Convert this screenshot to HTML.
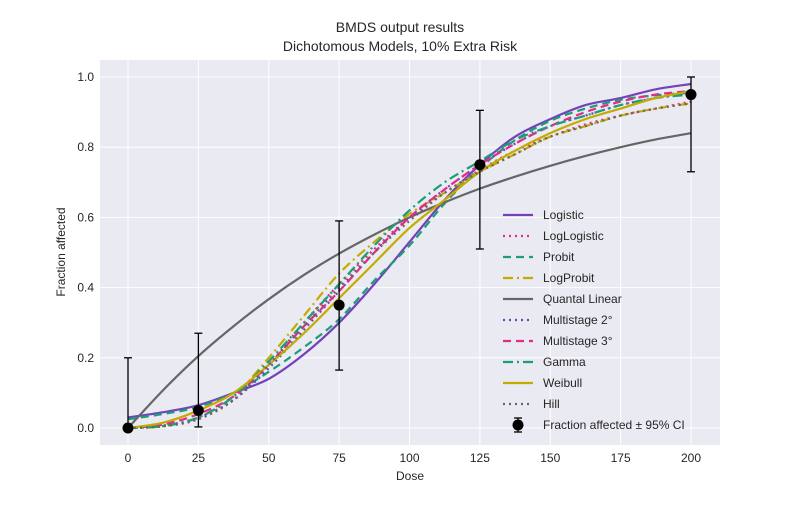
<!DOCTYPE html>
<html><head><meta charset="utf-8"><style>
body{margin:0;background:#fff;}
svg text{font-family:"Liberation Sans",sans-serif;fill:#262626;}
</style></head><body>
<svg id="chart" width="800" height="500">
<rect x="100" y="60" width="620" height="385" fill="#eaeaf2"/>
<g id="grid"></g><g id="xt"></g><g id="yt"></g>
<text x="400" y="32" font-size="14" text-anchor="middle">BMDS output results</text>
<text x="400" y="51" font-size="14" text-anchor="middle">Dichotomous Models, 10% Extra Risk</text>
<text x="410" y="480" font-size="12" text-anchor="middle">Dose</text>
<text x="0" y="0" font-size="12" text-anchor="middle" transform="translate(65,252) rotate(-90)">Fraction affected</text>
<g id="curves"></g><g id="pts"></g>
<g id="legend"></g>
</svg>
<script>
const doses=[0,12.5,25,37.5,50,62.5,75,87.5,100,112.5,125,137.5,150,162.5,175,187.5,200];
const logistic=[0.03,0.045,0.065,0.10,0.14,0.21,0.30,0.41,0.53,0.65,0.75,0.83,0.88,0.92,0.94,0.965,0.98];
const logLogistic=[0,0.005,0.025,0.08,0.18,0.30,0.41,0.51,0.60,0.67,0.735,0.79,0.83,0.865,0.89,0.91,0.93];
const probit=[0.025,0.04,0.06,0.10,0.16,0.23,0.31,0.42,0.52,0.64,0.74,0.82,0.875,0.91,0.935,0.948,0.955];
const logProbit=[0,0.005,0.03,0.09,0.20,0.32,0.44,0.53,0.61,0.67,0.73,0.78,0.83,0.86,0.89,0.91,0.925];
const quantalLinear=[0,0.108,0.205,0.29,0.367,0.436,0.497,0.551,0.60,0.643,0.682,0.716,0.747,0.775,0.80,0.822,0.84];
const multistage2=[0,0.007,0.03,0.08,0.17,0.28,0.39,0.50,0.60,0.68,0.75,0.81,0.86,0.89,0.92,0.94,0.955];
const multistage3=[0,0.01,0.04,0.09,0.18,0.29,0.39,0.50,0.60,0.68,0.75,0.81,0.86,0.90,0.93,0.95,0.96];
const gamma=[0,0.006,0.03,0.09,0.19,0.30,0.41,0.52,0.62,0.70,0.76,0.82,0.86,0.89,0.92,0.94,0.95];
const weibull=[0,0.015,0.05,0.10,0.18,0.27,0.37,0.47,0.57,0.65,0.73,0.79,0.84,0.88,0.91,0.94,0.96];
const hill=[0,0.005,0.025,0.08,0.18,0.29,0.40,0.50,0.59,0.67,0.73,0.78,0.83,0.86,0.89,0.91,0.925];
const obsDose=[0,25,75,125,200];
const obsFrac=[0,0.05,0.35,0.75,0.95];
const obsLo=[0,0.003,0.165,0.51,0.73];
const obsHi=[0.2,0.27,0.59,0.905,1.0];
const xTicks=[0,25,50,75,100,125,150,175,200];
const yTicks=[0,0.2,0.4,0.6,0.8,1.0];

const X=d=>128+d*(691-128)/200;
const Y=v=>428-v*351;
const NS='http://www.w3.org/2000/svg';
function mk(t,a,p){const e=document.createElementNS(NS,t);for(const k in a)e.setAttribute(k,a[k]);p.appendChild(e);return e;}
const grid=document.getElementById('grid'),xt=document.getElementById('xt'),yt=document.getElementById('yt');
xTicks.forEach(t=>{
 const l=mk('line',{x1:X(t),x2:X(t),y1:60,y2:445,stroke:'#fff','stroke-width':1},grid);
 
 
 const s=mk('text',{x:X(t),y:462,'font-size':12,'text-anchor':'middle'},xt);s.textContent=t;
 
 
});
yTicks.forEach(t=>{
 const l=mk('line',{x1:100,x2:720,y1:Y(t),y2:Y(t),stroke:'#fff','stroke-width':1},grid);
 
 
 const s=mk('text',{x:94,y:Y(t)+4,'font-size':12,'text-anchor':'end'},yt);s.textContent=t.toFixed(1);
 
 
});
const models=[
 ['Logistic',logistic,'#7442b8',''],
 ['LogLogistic',logLogistic,'#e7298a','2,4'],
 ['Probit',probit,'#1b9e77','8,5'],
 ['LogProbit',logProbit,'#c4ab00','10,4,2,4'],
 ['Quantal Linear',quantalLinear,'#666666',''],
 ['Multistage 2°',multistage2,'#7442b8','2,4'],
 ['Multistage 3°',multistage3,'#e7298a','8,5'],
 ['Gamma',gamma,'#1b9e77','10,4,2,4'],
 ['Weibull',weibull,'#c4ab00',''],
 ['Hill',hill,'#666666','2,4']
];
function path(ys){
 const p=doses.map((d,i)=>[X(d),Y(ys[i])]);
 let s='M'+p[0][0]+','+p[0][1];
 for(let i=0;i<p.length-1;i++){
  const p0=p[Math.max(0,i-1)],p1=p[i],p2=p[i+1],p3=p[Math.min(p.length-1,i+2)];
  s+=' C'+(p1[0]+(p2[0]-p0[0])/6)+','+(p1[1]+(p2[1]-p0[1])/6)+' '+(p2[0]-(p3[0]-p1[0])/6)+','+(p2[1]-(p3[1]-p1[1])/6)+' '+p2[0]+','+p2[1];
 }
 return s;
}
const cg=document.getElementById('curves'),lg=document.getElementById('legend');
models.forEach((m,i)=>{
 const a={d:path(m[1]),fill:'none',stroke:m[2],'stroke-width':2.2};
 if(m[3])a['stroke-dasharray']=m[3];
 const pe=mk('path',a,cg);
 
 
 const y=215+i*21;
 const la={x1:503,x2:533,y1:y,y2:y,stroke:m[2],'stroke-width':2.2};
 if(m[3])la['stroke-dasharray']=m[3];
 const ll=mk('line',la,lg);
 
 
 const t=mk('text',{x:543,y:y+4,'font-size':12},lg);t.textContent=m[0];
 
 
});
const pg=document.getElementById('pts');
obsDose.forEach((d,i)=>{
 const g=mk('g',{},pg);
 
 
 mk('line',{x1:X(d),x2:X(d),y1:Y(obsLo[i]),y2:Y(obsHi[i]),stroke:'#000','stroke-width':1.3},g);
 mk('line',{x1:X(d)-4,x2:X(d)+4,y1:Y(obsLo[i]),y2:Y(obsLo[i]),stroke:'#000','stroke-width':1.3},g);
 mk('line',{x1:X(d)-4,x2:X(d)+4,y1:Y(obsHi[i]),y2:Y(obsHi[i]),stroke:'#000','stroke-width':1.3},g);
 mk('circle',{cx:X(d),cy:Y(obsFrac[i]),r:5.5,fill:'#000'},g);
});
const ly=425;
const lge=mk('g',{},lg);


mk('line',{x1:518,x2:518,y1:ly-7,y2:ly+7,stroke:'#000','stroke-width':1.3},lge);
mk('line',{x1:514,x2:522,y1:ly-7,y2:ly-7,stroke:'#000','stroke-width':1.3},lge);
mk('line',{x1:514,x2:522,y1:ly+7,y2:ly+7,stroke:'#000','stroke-width':1.3},lge);
mk('circle',{cx:518,cy:ly,r:5.5,fill:'#000'},lge);
const ot=mk('text',{x:543,y:ly+4,'font-size':12},lge);ot.textContent='Fraction affected ± 95% CI';
</script>
</body></html>
